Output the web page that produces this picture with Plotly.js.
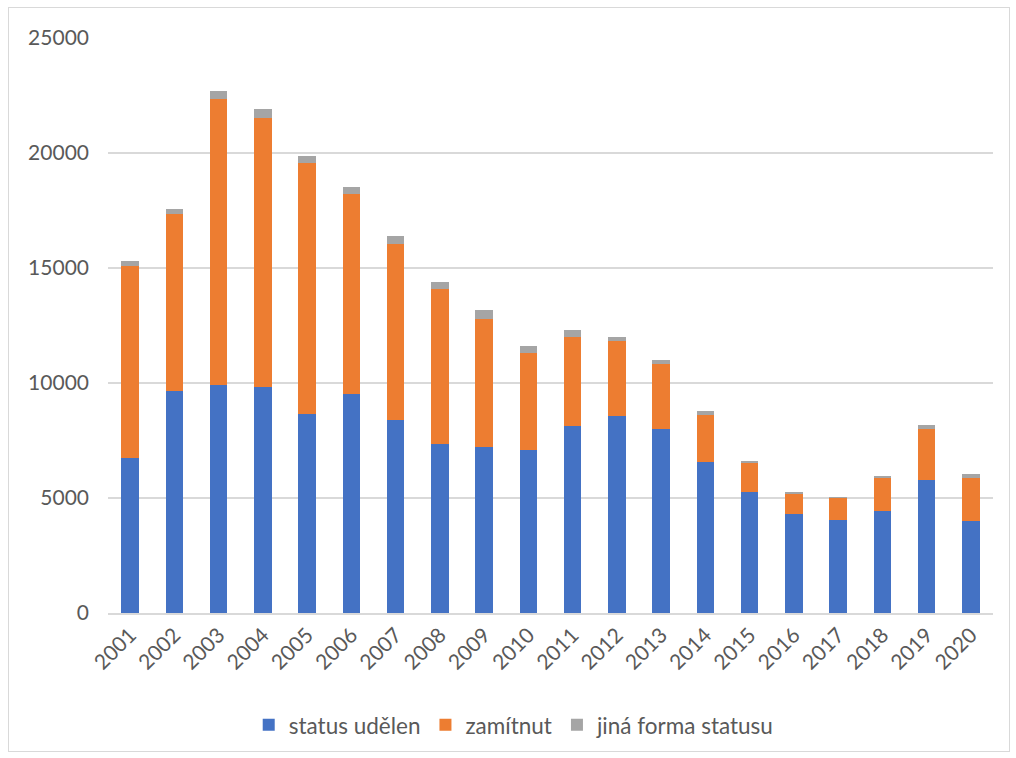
<!DOCTYPE html>
<html>
<head>
<meta charset="utf-8">
<script src="https://cdn.plot.ly/plotly-3.0.1.min.js"></script>
<style>
html,body{margin:0;padding:0;background:#fff;}
#wrap{position:relative;width:1016px;height:758px;}
#chart{position:absolute;left:0;top:0;width:1016px;height:758px;}
#frame{position:absolute;left:8px;top:7px;width:1000px;height:743px;border:1px solid #d9d9d9;pointer-events:none;}
</style>
</head>
<body>
<div id="wrap"><div id="chart"></div><div id="frame"></div></div>
<script>
const years = ['2001','2002','2003','2004','2005','2006','2007','2008','2009','2010','2011','2012','2013','2014','2015','2016','2017','2018','2019','2020'];
const statusUdelen = [6750, 9650, 9900, 9840, 8670, 9510, 8410, 7330, 7200, 7070, 8150, 8585, 7995, 6560, 5270, 4315, 4025, 4430, 5770, 3995];
const zamitnut = [8325, 7680, 12450, 11690, 10880, 8700, 7630, 6770, 5570, 4215, 3840, 3220, 2815, 2070, 1255, 850, 965, 1445, 2225, 1890];
const jinaForma = [250, 235, 335, 375, 330, 315, 330, 305, 390, 305, 305, 215, 190, 145, 100, 115, 75, 100, 190, 175];
const seriesNames = ['status udělen', 'zamítnut', 'jiná forma statusu'];
const yTicks = [0, 5000, 10000, 15000, 20000, 25000];

const font = {family: 'Lato, "Open Sans", sans-serif', size: 21, color: '#595959'};
const legendFont = {family: 'Lato, "Open Sans", sans-serif', size: 22.5, color: '#595959'};
const colors = ['#4472C4', '#ED7D31', '#A5A5A5'];
const data = [statusUdelen, zamitnut, jinaForma].map((vals, i) => ({
  type: 'bar', x: years, y: vals, name: seriesNames[i],
  marker: {color: colors[i], line: {width: 0}}, hoverinfo: 'x+y+name'
}));

const layout = {
  width: 1016, height: 758,
  margin: {l: 108, r: 23, t: 38, b: 144},
  barmode: 'stack', bargap: 0.6,
  paper_bgcolor: '#fff', plot_bgcolor: '#fff',
  font: font,
  showlegend: true,
  legend: {orientation: 'h', x: 0.459, xanchor: 'center', y: -0.193, yanchor: 'middle', font: legendFont, traceorder: 'normal'},
  xaxis: {type: 'category', tickangle: -45, tickfont: font, showgrid: false, showline: true, linecolor: '#d9d9d9', linewidth: 1.5, ticks: '', zeroline: false, fixedrange: true},
  yaxis: {range: [0, 25000], tickvals: yTicks, ticktext: yTicks.map(String), tickfont: font, showgrid: true, gridcolor: '#d9d9d9', gridwidth: 1.5, zeroline: false, showline: false, ticks: '', ticklabelstandoff: 18, fixedrange: true}
};
Plotly.newPlot('chart', data, layout, {staticPlot: true, displayModeBar: false});
</script>
</body>
</html>
